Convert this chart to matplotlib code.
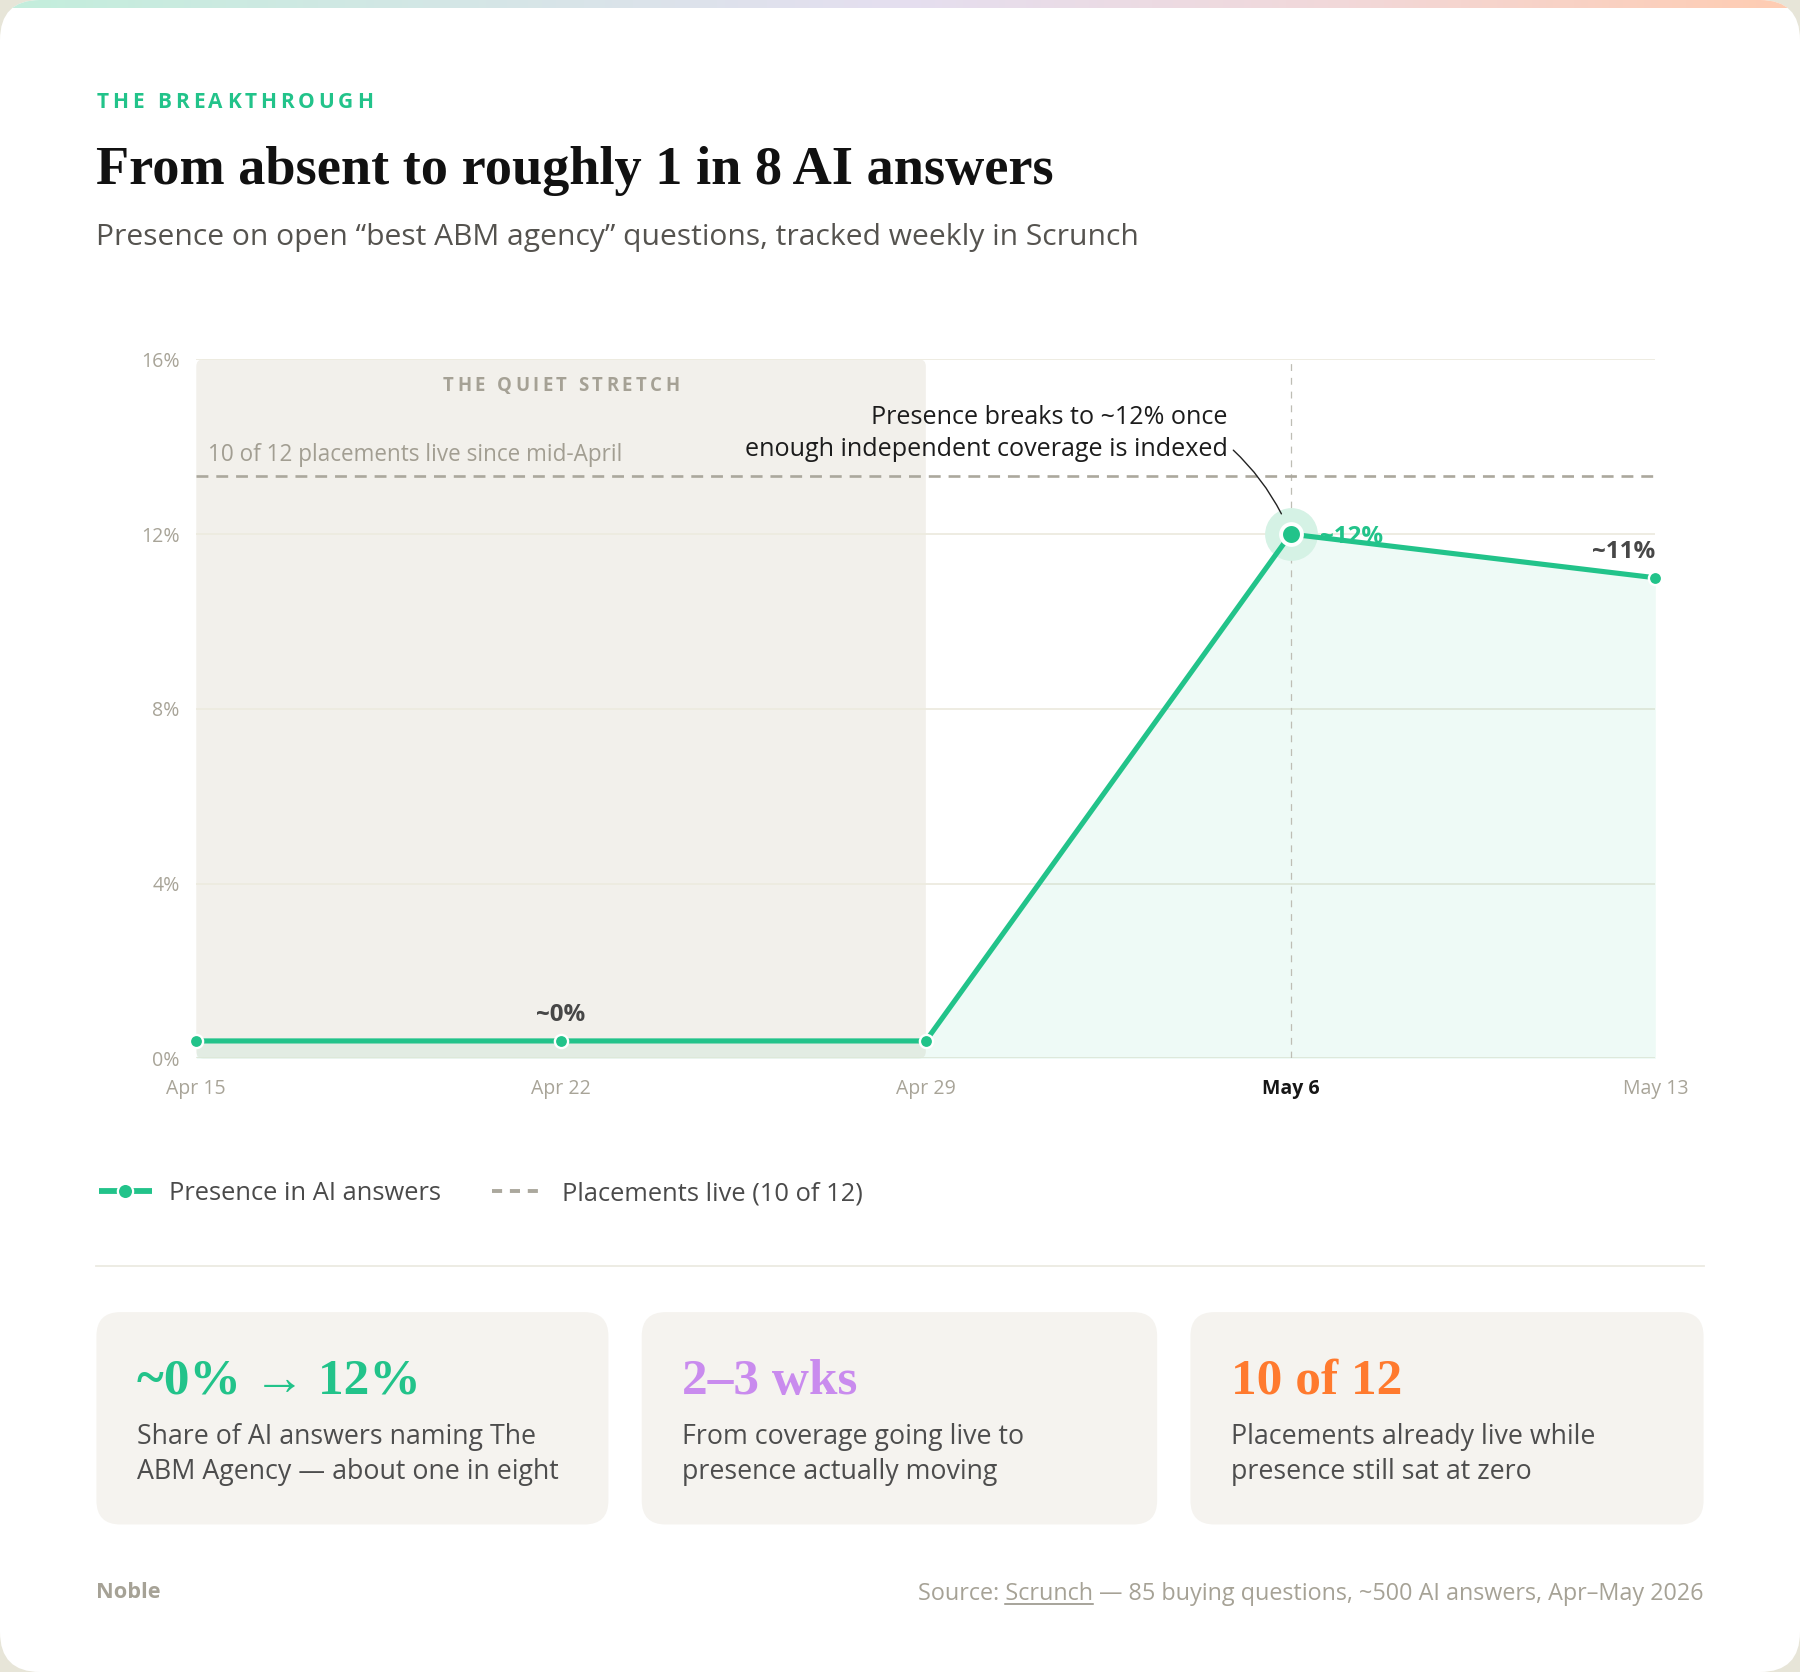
import numpy as np
import matplotlib
matplotlib.use("Agg")
import matplotlib.pyplot as plt
import matplotlib.patches as mpatches
from matplotlib.lines import Line2D
from matplotlib.transforms import IdentityTransform
from matplotlib.colors import LinearSegmentedColormap
from matplotlib.font_manager import FontProperties, findfont, get_font

# ---------------- data ----------------
weeks = ["Apr 15", "Apr 22", "Apr 29", "May 6", "May 13"]
presence = [0.4, 0.4, 0.4, 12.0, 11.0]
point_labels = [None, "~0%", None, "~12%", "~11%"]
placements_level = 13.33
y_ticks = [0, 4, 8, 12, 16]
quiet_start, quiet_end = 0, 2          # indices into weeks
highlight_idx = 3

eyebrow = "THE BREAKTHROUGH"
title = "From absent to roughly 1 in 8 AI answers"
subtitle = "Presence on open \u201cbest ABM agency\u201d questions, tracked weekly in Scrunch"
quiet_label = "THE QUIET STRETCH"
placements_note = "10 of 12 placements live since mid-April"
callout = "Presence breaks to ~12% once\nenough independent coverage is indexed"
legend_labels = ["Presence in AI answers", "Placements live (10 of 12)"]

card_values = ["~0% \u2192 12%", "2\u20133 wks", "10 of 12"]
card_desc = [["Share of AI answers naming The", "ABM Agency \u2014 about one in eight"],
             ["From coverage going live to", "presence actually moving"],
             ["Placements already live while", "presence still sat at zero"]]
footer_brand = "Noble"
source_text = "Source: Scrunch \u2014 85 buying questions, ~500 AI answers, Apr\u2013May 2026"
source_link = "Scrunch"

# ---------------- style ----------------
GREEN = "#22C38A"
PURPLE = "#C98BEE"
ORANGE = "#FF7A2E"
card_colors = [GREEN, PURPLE, ORANGE]
SANS = ["Open Sans", "DejaVu Sans"]
SERIF = ["Liberation Serif", "DejaVu Serif"]

W, H, DPI = 1800, 1672, 100
S = W / 1568.0
I = IdentityTransform()

fig = plt.figure(figsize=(W / DPI, H / DPI), dpi=DPI)
fig.patch.set_facecolor("#E7E5D8")
R = fig.canvas.get_renderer()


def X(v):
    return v * S


def Y(v):
    return H - v * S


def text_width(s, size, family=SANS, weight="normal"):
    t = fig.text(0, 0, s, fontsize=size, family=family, weight=weight)
    w = t.get_window_extent(R).width
    t.remove()
    return w


def fit_size(s, target_px, family=SANS, weight="normal"):
    return 20.0 * target_px / text_width(s, 20, family, weight)


def tracked(x, y, s, size, width_px, color, weight="bold", ha="left"):
    fp = FontProperties(family=SANS, weight=weight, size=size)
    font = get_font(findfont(fp))
    font.set_size(size, DPI)
    advs = []
    for ch in s:
        g = font.load_char(ord(ch))
        advs.append(g.linearHoriAdvance / 65536.0)
    natural = sum(advs)
    track = (width_px - natural) / (len(s) - 1)
    cur = x - (width_px / 2 if ha == "center" else 0)
    for ch, a in zip(s, advs):
        if ch != " ":
            fig.text(cur, y, ch, fontproperties=fp, color=color, transform=I,
                     va="baseline", ha="left")
        cur += a + track


# ---------------- background card ----------------
bg = fig.add_axes([0, 0, 1, 1], zorder=-10)
bg.set_xlim(0, W)
bg.set_ylim(0, H)
bg.axis("off")
card = mpatches.FancyBboxPatch((0, 0), W, H,
                               boxstyle="round,pad=0,rounding_size=40",
                               fc="white", ec="none")
bg.add_patch(card)
gcmap = LinearSegmentedColormap.from_list(
    "top", [(0.0, "#C3EEDC"), (0.5, "#E5DFF0"), (0.75, "#F2D8D9"), (1.0, "#FFCCB1")])
im = bg.imshow(np.linspace(0, 1, 600)[None, :], cmap=gcmap,
               extent=(0, W, H - 8, H), aspect="auto", zorder=2)
im.set_clip_path(card)

# ---------------- header ----------------
tracked(X(84), Y(94), eyebrow, 15, X(325 - 84), GREEN)
fs_title = fit_size(title, X(916 - 84), SERIF, "bold")
fig.text(X(84), Y(160), title, fontsize=fs_title, family=SERIF, weight="bold",
         color="#111111", transform=I, va="baseline")
fs_sub = fit_size(subtitle, X(991 - 84))
fig.text(X(84), Y(213), subtitle, fontsize=fs_sub, family=SANS,
         color="#55534F", transform=I, va="baseline")

# ---------------- chart ----------------
ax = fig.add_axes([X(171) / W, Y(922) / H, X(1442 - 171) / W, X(922 - 313) / H])
ax.set_facecolor("none")
xs = np.arange(len(weeks))

# grid / axes
ax.set_axisbelow(True)
ax.set_yticks(y_ticks)
ax.set_yticklabels([f"{v}%" for v in y_ticks])
ax.set_xticks(xs)
ax.set_xticklabels(weeks)
ax.grid(axis="y", color="#EDEBDF", lw=1.3)
ax.grid(axis="x", visible=False)
for sp in ax.spines.values():
    sp.set_visible(False)
fs_tick = fit_size(weeks[0], X(52))
ax.tick_params(axis="both", length=0, labelsize=fs_tick, labelcolor="#A8A498")
ax.tick_params(axis="x", pad=15)
ax.tick_params(axis="y", pad=12)
for t in ax.get_xticklabels():
    t.set_family(SANS)
for t in ax.get_yticklabels():
    t.set_family(SANS)
hl = ax.get_xticklabels()[highlight_idx]
hl.set_fontweight("bold")
hl.set_color("#161616")

ax.set_xlim(0, len(weeks) - 1)
ax.set_ylim(0, 16)

# quiet stretch shading
qx0, qy0 = ax.transData.transform((quiet_start, y_ticks[0]))
qx1, qy1 = ax.transData.transform((quiet_end, y_ticks[-1]))
quiet = mpatches.FancyBboxPatch((qx0, qy0), qx1 - qx0, qy1 - qy0,
                                boxstyle="round,pad=0,rounding_size=7",
                                transform=I, fc="#F2F0EB", ec="none",
                                zorder=0.2, clip_on=False)
ax.add_patch(quiet)

fs_quiet = 13.4
qcx, _ = ax.transData.transform(((quiet_start + quiet_end) / 2, 0))
tracked(qcx, Y(341), quiet_label, fs_quiet, X(591 - 385), "#A5A195", ha="center")

fs_note = fit_size(placements_note, X(542 - 181))
fig.text(X(181), Y(402), placements_note, fontsize=fs_note, family=SANS,
         color="#A29E92", transform=I, va="baseline")

# data
ax.fill_between(xs, presence, 0, color=GREEN, alpha=0.075, lw=0, zorder=1)
ax.axvline(highlight_idx, color="#BEBDB4", lw=0.9, ls=(0, (5.5, 5.5)), zorder=1.5)
ax.axhline(placements_level, color="#ABA89D", lw=1.9, ls=(0, (4.5, 3)), zorder=2)
ax.plot([highlight_idx], [presence[highlight_idx]], "o", ms=38, color="#D5F2E5",
        mew=0, zorder=3, clip_on=False)
ax.plot(xs, presence, color=GREEN, lw=3.7, marker="o", ms=9.5, mfc=GREEN,
        mec="white", mew=1.7, zorder=4, clip_on=False, solid_capstyle="round")
ax.plot([highlight_idx], [presence[highlight_idx]], "o", ms=15, mfc=GREEN,
        mec="white", mew=2.8, zorder=5, clip_on=False)

fs_lab = fit_size("~0%", X(43), SANS, "bold")
offsets = {1: ((0, X(17)), "center", "#474747"),
           3: ((X(26), -X(8)), "left", GREEN),
           4: ((0, X(17)), "right", "#474747")}
for i, lab in enumerate(point_labels):
    if lab is None:
        continue
    off, ha, col = offsets[i]
    ax.annotate(lab, (xs[i], presence[i]), xytext=off, textcoords="offset pixels",
                ha=ha, va="baseline", fontsize=fs_lab, fontweight="bold",
                family=SANS, color=col, zorder=6)

# callout
fs_call = fit_size(callout.split("\n")[1], X(1069 - 650))
ax.annotate(callout, (highlight_idx, presence[highlight_idx]),
            xytext=(X(1069 - 1124), X(465 - 397)), textcoords="offset pixels",
            ha="right", va="baseline", fontsize=fs_call, family=SANS,
            color="#1C1C1C", linespacing=1.38, zorder=6,
            arrowprops=dict(arrowstyle="-", color="#222222", lw=1.0,
                            connectionstyle="arc3,rad=-0.12",
                            relpos=(1.0, 0.3), shrinkA=3, shrinkB=16))

# ---------------- legend ----------------
fs_leg = fit_size(legend_labels[0], X(385 - 148))
fs_px = fs_leg * DPI / 72.0
handles = [Line2D([0], [0], color=GREEN, lw=4.2, marker="o", ms=11, mfc=GREEN,
                  mec="white", mew=1.6, solid_capstyle="butt"),
           Line2D([0], [0], color="#ABA89D", lw=2.8, ls=(0, (2.6, 2.0)))]
fig.legend(handles, legend_labels, loc="center left",
           bbox_to_anchor=(X(86), Y(1040)), bbox_transform=I, ncol=2,
           frameon=False, borderpad=0, borderaxespad=0, fontsize=fs_leg,
           labelcolor="#4A4A4A", prop={"family": SANS, "size": fs_leg},
           handlelength=X(46) / fs_px, handletextpad=X(15) / fs_px,
           columnspacing=X(430 - 385) / fs_px)

# separator
fig.add_artist(Line2D([X(84), X(1484)], [Y(1103), Y(1103)], transform=I,
                      color="#ECEAE2", lw=1.3))

# ---------------- cards ----------------
card_x = [(84, 530), (559, 1008), (1037, 1484)]
fs_big = fit_size(card_values[0], X(366 - 119), SERIF, "bold")
fs_body = fit_size(card_desc[0][0], X(467 - 119))
for (l, r), val, desc, col in zip(card_x, card_values, card_desc, card_colors):
    p = mpatches.FancyBboxPatch((X(l), Y(1328)), X(r - l), X(1328 - 1143),
                                boxstyle="round,pad=0,rounding_size=24",
                                transform=I, fc="#F5F3EF", ec="none")
    fig.add_artist(p)
    fig.text(X(l + 35), Y(1214), val, fontsize=fs_big, family=SERIF,
             weight="bold", color=col, transform=I, va="baseline")
    for k, line in enumerate(desc):
        fig.text(X(l + 35), Y(1258 + 30 * k), line, fontsize=fs_body,
                 family=SANS, color="#4D4D4D", transform=I, va="baseline")

# ---------------- footer ----------------
fs_brand = fit_size(footer_brand, X(56), SANS, "bold")
fig.text(X(84), Y(1392), footer_brand, fontsize=fs_brand, family=SANS,
         weight="bold", color="#A6A296", transform=I, va="baseline")
fs_src = fit_size(source_text, X(1484 - 800))
fig.text(X(1484), Y(1394), source_text, fontsize=fs_src, family=SANS,
         color="#A6A296", transform=I, va="baseline", ha="right")
w_full = text_width(source_text, fs_src)
pre = source_text[:source_text.index(source_link) + len(source_link)]
w_pre = text_width(pre, fs_src)
w_link = text_width(source_link, fs_src)
x_start = X(1484) - w_full
fig.add_artist(Line2D([x_start + w_pre - w_link, x_start + w_pre],
                      [Y(1394) - 4, Y(1394) - 4], transform=I,
                      color="#8F8B80", lw=1.1))

fig.savefig("out.png", dpi=DPI, facecolor=fig.get_facecolor())
